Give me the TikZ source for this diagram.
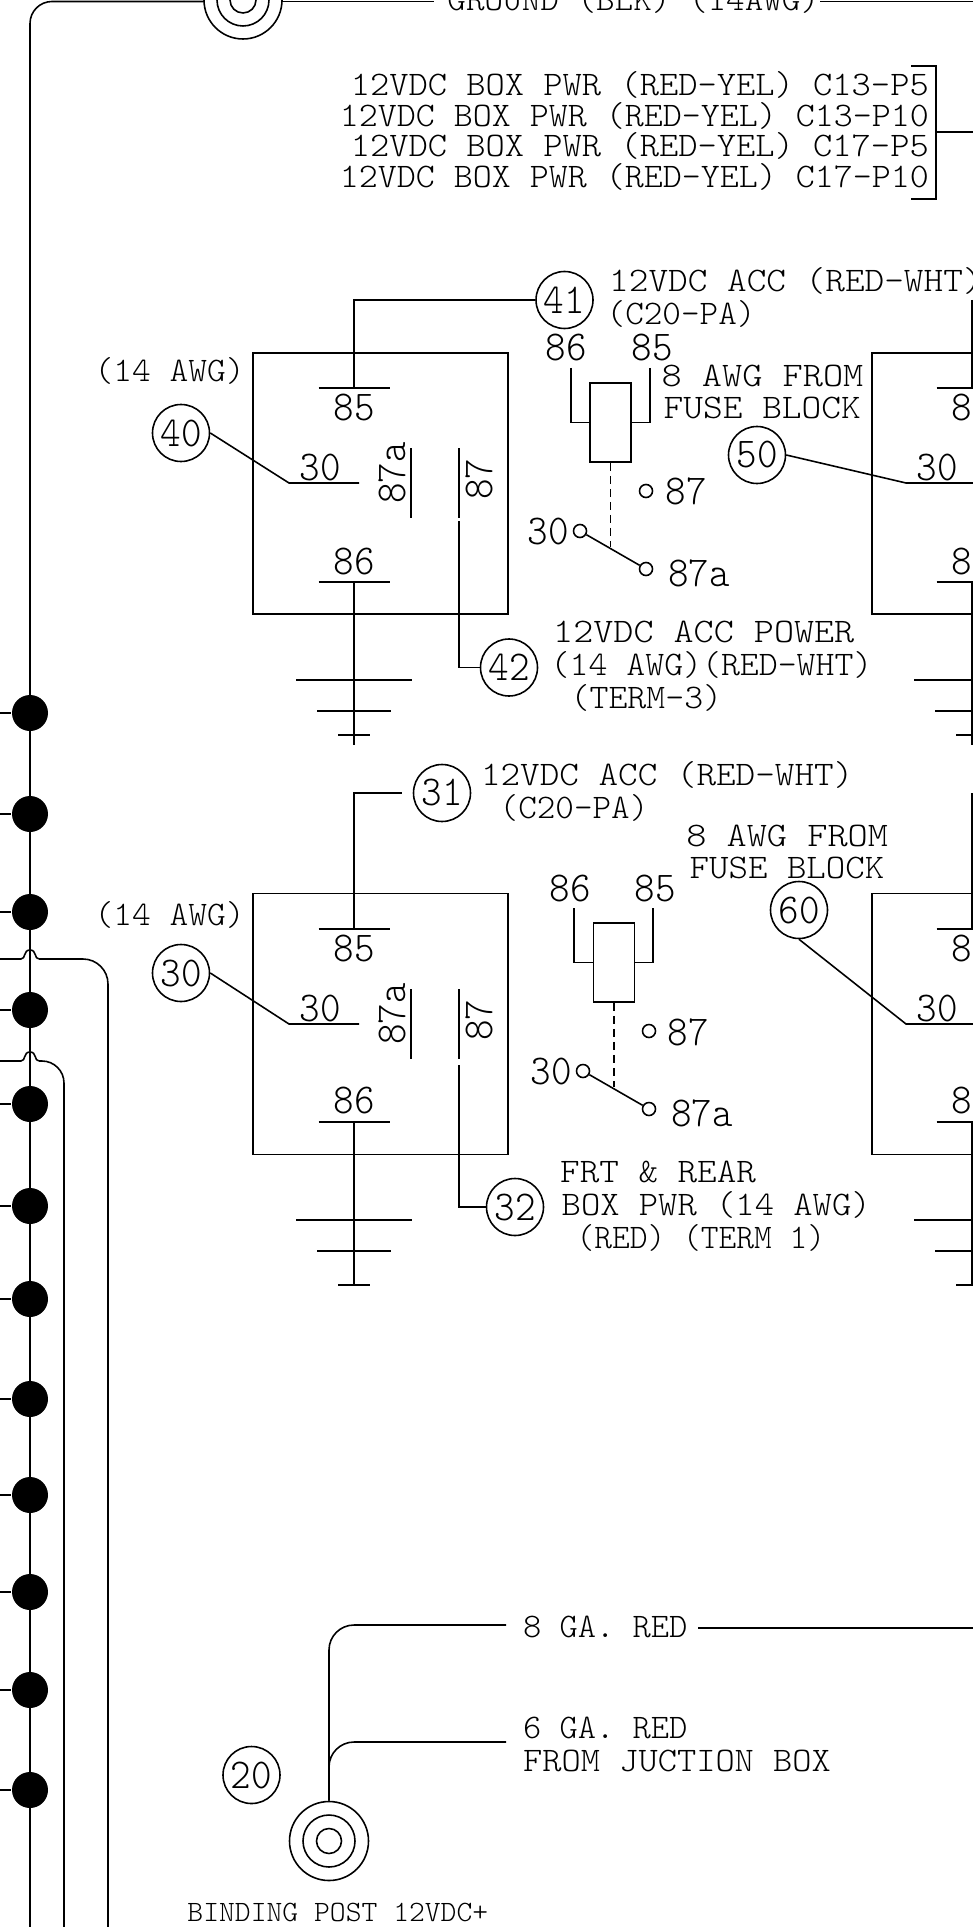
\documentclass[tikz,border=0pt]{standalone}
\usepackage{fontspec}
\usepackage{tikz}
\newfontfamily\cadfont[FakeStretch=1.055]{Latin Modern Mono Light}
\newfontfamily\numfont[FakeStretch=0.92]{Latin Modern Mono Light}
\tikzset{
    wire/.style={line width=0.45pt},
    cadtext/.style={inner sep=0pt,anchor=base west,font=\cadfont\fontsize{9.8}{10}\selectfont},
    cadright/.style={cadtext,anchor=base east},
    postlabel/.style={cadtext,font=\cadfont\fontsize{8.4}{9}\selectfont},
    pinlabel/.style={inner sep=0pt,anchor=base,font=\numfont\fontsize{12.1}{13}\selectfont},
    pinup/.style={pinlabel,rotate=90},
    tag/.style={circle,draw,wire,inner sep=0pt,minimum size=5.7mm,font=\numfont\fontsize{12.1}{13}\selectfont},
    relaybox/.style={draw,wire,inner sep=0pt,minimum width=25.5mm,minimum height=26.1mm},
    coil/.style={draw,wire,inner sep=0pt,minimum width=4.1mm,minimum height=7.9mm},
    contact/.style={circle,draw,wire,inner sep=0pt,minimum size=1.3mm},
    joint/.style={circle,fill=black,inner sep=0pt,minimum size=3.6mm},
    ring/.style={circle,draw,wire,inner sep=0pt},
}
\begin{document}
\begin{tikzpicture}[x=0.1mm,y=-0.1mm]
    \useasboundingbox (0,0) rectangle (973,1927);
    \clip (0,0) rectangle (973,1927);

    % left bus and ground post
    \node[ring,minimum size=7.8mm] (gnd) at (243,0) {};
    \node[ring,minimum size=5.2mm] at (243,0) {};
    \node[ring,minimum size=2.6mm] at (243,0) {};
    \coordinate (busbot) at (30,1927);
    \coordinate (gndw) at (204,1.5);
    \coordinate (gnde) at (282,1.5);
    \coordinate (gndt) at (434,1.5);
    \coordinate (gndr) at (820,1.5);
    \coordinate (gndx) at (973,1.5);
    \draw[wire,rounded corners=2.2mm] (busbot) |- (gndw);
    \draw[wire] (gnde) -- (gndt);
    \draw[wire] (gndr) -- (gndx);
    \node[cadtext,xscale=.974] (gndlabel) at (446.8,11) {GROUND (BLK) (14AWG)};

    \foreach \y in {713,814,912,1010,1104,1206,1299,1399,1495,1592,1690,1790} {
        \coordinate (stub\y) at (0,\y);
        \node[joint] (dot\y) at (30,\y) {};
        \draw[wire] (stub\y) -- (dot\y);
    }

    % wires hopping over the bus
    \draw[wire] (0,959) -- (21,959) .. controls (26,959) and (23,950) .. (30,950) .. controls (37,950) and (34,959) .. (39,959);
    \draw[wire,rounded corners=2.5mm] (39,959) -- (108,959) -- (108,1927);
    \draw[wire] (0,1061) -- (21,1061) .. controls (26,1061) and (23,1052) .. (30,1052) .. controls (37,1052) and (34,1061) .. (39,1061);
    \draw[wire,rounded corners=2.2mm] (39,1061) -- (64,1061) -- (64,1927);

    % box power block
    \node[cadright,xscale=1.01] at (929.5,96) {12VDC BOX PWR (RED-YEL) C13-P5};
    \node[cadright,xscale=.996] at (929.5,127) {12VDC BOX PWR (RED-YEL) C13-P10};
    \node[cadright,xscale=1.01] at (929.5,157) {12VDC BOX PWR (RED-YEL) C17-P5};
    \node[cadright,xscale=.996] at (929.5,188) {12VDC BOX PWR (RED-YEL) C17-P10};
    \draw[wire] (911,66) -- (936,66) -- (936,199) -- (911,199);
    \draw[wire] (936,132) -- (973,132);

    % relay boxes
    \node[relaybox] (boxA) at (380.5,483.5) {};
    \node[relaybox] (boxB) at (999.5,483.5) {};
    \node[relaybox] (boxC) at (380.5,1024) {};
    \node[relaybox] (boxD) at (999.5,1024) {};

    \foreach \cx in {354,972} {
        \draw[wire] ({\cx-35.5},388) -- ({\cx+35.5},388);
        \draw[wire] ({\cx-35.5},582) -- ({\cx+35.5},582);
        \draw[wire] (\cx,582) -- (\cx,745);
        \draw[wire] ({\cx-58},680) -- ({\cx+58},680);
        \draw[wire] ({\cx-37},711) -- ({\cx+37},711);
        \draw[wire] ({\cx-16},735) -- ({\cx+16},735);
        \node[pinlabel] at (\cx,421) {85};
        \node[pinlabel] at (\cx,574) {86};
        \draw[wire] ({\cx-35.5},929) -- ({\cx+35.5},929);
        \draw[wire] ({\cx-35.5},1122) -- ({\cx+35.5},1122);
        \draw[wire] (\cx,1122) -- (\cx,1285);
        \draw[wire] ({\cx-58},1220) -- ({\cx+58},1220);
        \draw[wire] ({\cx-37},1251) -- ({\cx+37},1251);
        \draw[wire] ({\cx-16},1285) -- ({\cx+16},1285);
        \node[pinlabel] at (\cx,961) {85};
        \node[pinlabel] at (\cx,1113) {86};
    }
    \draw[wire] (972,300) -- (972,388);
    \draw[wire] (972,793) -- (972,929);

    % first relay
    \node[tag] (t41) at (564.5,300) {41};
    \node[tag] (t40) at (181,433) {40};
    \node[tag] (t42) at (509,667.5) {42};
    \node[tag] (t50) at (757,455) {50};
    \coordinate (barA) at (354,388);
    \draw[wire] (t41) -| (barA);
    \coordinate (kneeA) at (289,483);
    \coordinate (endA) at (359,483);
    \draw[wire] (t40.east) -- (kneeA) -- (endA);
    \coordinate (kneeB) at (906,483);
    \coordinate (endB) at (973,483);
    \draw[wire] (t50.east) -- (kneeB) -- (endB);
    \node[pinlabel] at (320,480) {30};
    \node[pinlabel] at (937,480) {30};
    \node[pinup] at (405,473) {87a};
    \node[pinup] at (492,479) {87};
    \draw[wire] (411,448) -- (411,518);
    \draw[wire] (459,448) -- (459,518);
    \coordinate (p87A) at (459,521);
    \draw[wire] (p87A) |- (t42);

    \node[cadtext,xscale=1.03] at (608.5,292) {12VDC ACC (RED-WHT)};
    \node[cadtext,xscale=.975] at (606,325) {(C20-PA)};
    \node[cadtext,xscale=1.058] at (660.8,387) {8 AWG FROM};
    \node[cadtext,xscale=1.033] at (663,419) {FUSE BLOCK};
    \node[cadtext,xscale=.983] at (94,381) {(14 AWG)};
    \node[cadtext,xscale=1.052] at (552.5,642) {12VDC ACC POWER};
    \node[cadtext,xscale=.992] at (550,675) {(14 AWG)(RED-WHT)};
    \node[cadtext,xscale=.992] at (570,708) {(TERM-3)};

    % first relay symbol
    \node[coil] (coilA) at (610.5,422.5) {};
    \node[contact] (offA) at (580,531) {};
    \node[contact] (noA) at (646,491) {};
    \node[contact] (ncA) at (646,569) {};
    \coordinate (legA) at (571,368);
    \coordinate (legB) at (650,368);
    \draw[wire] (legA) |- (coilA);
    \draw[wire] (legB) |- (coilA);
    \draw[wire] (offA) -- (ncA);
    \coordinate (dashA) at (610.5,547);
    \draw[wire,dash pattern=on 0.8mm off 0.5mm] (coilA) -- (dashA);
    \node[pinlabel] at (566,361) {86};
    \node[pinlabel] at (652,361) {85};
    \node[pinlabel] at (548,544) {30};
    \node[pinlabel] at (686,504) {87};
    \node[pinlabel] at (699,586) {87a};

    % second relay
    \node[tag] (t31) at (442,793) {31};
    \node[tag] (t30) at (181,973) {30};
    \node[tag] (t32) at (515,1207) {32};
    \node[tag] (t60) at (799,910) {60};
    \coordinate (barC) at (354,929);
    \draw[wire,shorten <=1.1mm] (t31) -| (barC);
    \coordinate (kneeC) at (289,1024);
    \coordinate (endC) at (359,1024);
    \draw[wire] (t30.east) -- (kneeC) -- (endC);
    \coordinate (kneeD) at (906,1024);
    \coordinate (endD) at (973,1024);
    \draw[wire] (t60.south) -- (kneeD) -- (endD);
    \node[pinlabel] at (320,1021) {30};
    \node[pinlabel] at (937,1021) {30};
    \node[pinup] at (405,1014) {87a};
    \node[pinup] at (492,1020) {87};
    \draw[wire] (411,989) -- (411,1059);
    \draw[wire] (459,989) -- (459,1059);
    \coordinate (p87C) at (459,1065);
    \draw[wire] (p87C) |- (t32);

    \node[cadtext,xscale=1.027] at (480.3,785) {12VDC ACC (RED-WHT)};
    \node[cadtext,xscale=.974] at (499,818) {(C20-PA)};
    \node[cadtext,xscale=1.058] at (685.5,846) {8 AWG FROM};
    \node[cadtext,xscale=1.02] at (689,878) {FUSE BLOCK};
    \node[cadtext,xscale=.983] at (94,925) {(14 AWG)};
    \node[cadtext,xscale=1.026] at (559.5,1182) {FRT \& REAR};
    \node[cadtext,xscale=1.012] at (561,1215) {BOX PWR (14 AWG)};
    \node[cadtext,xscale=.93] at (576,1248) {(RED) (TERM 1)};

    % second relay symbol
    \node[coil] (coilC) at (614,962.5) {};
    \node[contact] (offC) at (583,1071) {};
    \node[contact] (noC) at (649,1031) {};
    \node[contact] (ncC) at (649,1109) {};
    \coordinate (legC) at (574,908);
    \coordinate (legD) at (653,908);
    \draw[wire] (legC) |- (coilC);
    \draw[wire] (legD) |- (coilC);
    \draw[wire] (offC) -- (ncC);
    \coordinate (dashC) at (614,1087);
    \draw[wire,dash pattern=on 0.8mm off 0.5mm] (coilC) -- (dashC);
    \node[pinlabel] at (570,901) {86};
    \node[pinlabel] at (655,901) {85};
    \node[pinlabel] at (551,1084) {30};
    \node[pinlabel] at (688,1045) {87};
    \node[pinlabel] at (702,1126) {87a};

    % binding post
    \node[ring,minimum size=7.9mm] (post) at (329,1841) {};
    \node[ring,minimum size=5.2mm] at (329,1841) {};
    \node[ring,minimum size=2.5mm] at (329,1841) {};
    \node[tag] (t20) at (251.5,1775) {20};
    \coordinate (redA) at (506,1625);
    \coordinate (redB) at (506,1742);
    \coordinate (redC) at (698,1628);
    \coordinate (redD) at (973,1628);
    \draw[wire,rounded corners=2.5mm] (post) |- (redA);
    \draw[wire,rounded corners=2.5mm] (post) |- (redB);
    \draw[wire] (redC) -- (redD);
    \node[cadtext,xscale=.957] at (522.5,1637) {8 GA. RED};
    \node[cadtext,xscale=.957] at (522.5,1738) {6 GA. RED};
    \node[cadtext,xscale=1.008] at (522.5,1771) {FROM JUCTION BOX};
    \node[postlabel,xscale=.968] at (186.8,1921) {BINDING POST 12VDC+};
\end{tikzpicture}
\end{document}
